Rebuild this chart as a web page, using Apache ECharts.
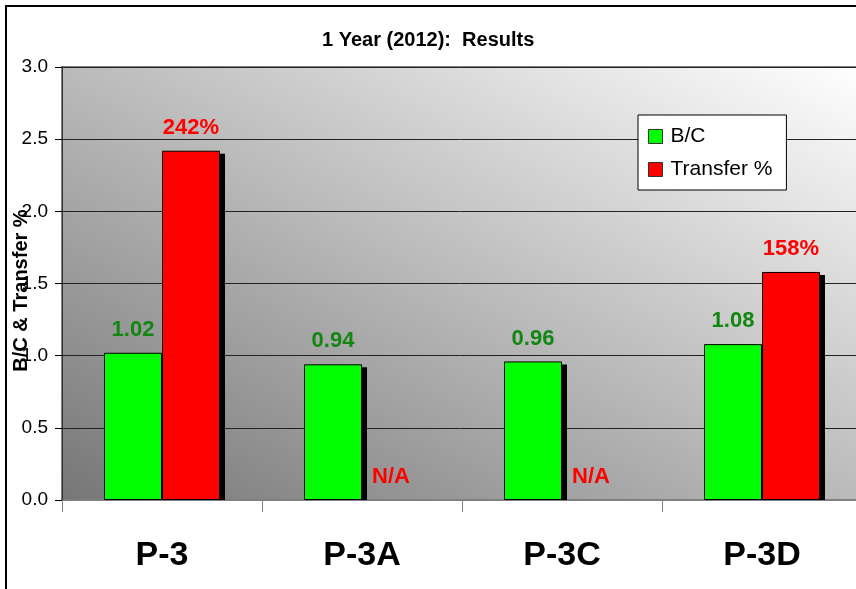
<!DOCTYPE html>
<html>
<head>
<meta charset="utf-8">
<title>1 Year (2012): Results</title>
<script src="https://cdn.jsdelivr.net/npm/echarts@6/dist/echarts.min.js"></script>
<style>
  html, body { margin: 0; padding: 0; background: #fff; }
  #chart { width: 856px; height: 589px; }
</style>
</head>
<body>
<div id="chart"></div>
<script>
// 数据
const categories = ['P-3', 'P-3A', 'P-3C', 'P-3D']
const bcValues = [1.02, 0.94, 0.96, 1.08]
const transferValues = [2.42, 0, 0, 1.58]
const transferLabels = ['242%', 'N/A', 'N/A', '158%']
const yTicks = [0, 0.5, 1, 1.5, 2, 2.5, 3]

const font = '"Liberation Sans", Arial, sans-serif'
const barWidth = 58

const chart = echarts.init(document.getElementById('chart'))

// bar drop shadows (drawn under the bars, from the same values)
const renderShadow = (params, api) => {
  const idx = api.value(0)
  const base = api.coord([idx, 0])
  const children = []
  const vals = [api.value(1), api.value(2)]
  vals.forEach((v, k) => {
    if (!(v > 0)) return
    const top = api.coord([idx, v])
    const left = base[0] - barWidth + k * barWidth
    children.push({
      type: 'rect',
      shape: { x: left + 5, y: top[1] + 3, width: barWidth, height: base[1] - top[1] - 3 },
      style: { fill: '#000' }
    })
  })
  return { type: 'group', children }
}

const option = {
  animation: false,
  textStyle: { fontFamily: font },
  title: {
    text: '1 Year (2012):  Results',
    left: 322,
    top: 30,
    padding: 0,
    textStyle: { fontFamily: font, fontSize: 20, fontWeight: 'bold', color: '#000' }
  },
  legend: {
    orient: 'vertical',
    left: 638,
    top: 115,
    padding: [11, 14, 10, 10],
    itemGap: 12,
    itemWidth: 14,
    itemHeight: 14,
    backgroundColor: '#fff',
    borderColor: '#000',
    borderWidth: 1,
    borderRadius: 0,
    icon: 'rect',
    itemStyle: { borderColor: '#333', borderWidth: 1 },
    textStyle: { fontFamily: font, fontSize: 21, color: '#000', padding: [0, 0, 0, 3] },
    data: ['B/C', 'Transfer %']
  },
  grid: {
    left: 62,
    right: -6,
    top: 67,
    bottom: 89,
    containLabel: false,
    outerBoundsMode: 'none',
    show: true,
    borderColor: '#808080',
    borderWidth: 2,
    backgroundColor: {
      type: 'linear',
      x: 0.273, y: 1.273, x2: 0.727, y2: -0.273,
      colorStops: [
        { offset: 0, color: '#767676' },
        { offset: 1, color: '#ffffff' }
      ]
    }
  },
  xAxis: {
    type: 'category',
    data: categories,
    axisLine: { lineStyle: { color: '#808080', width: 1 } },
    axisTick: { show: true, length: 12, lineStyle: { color: '#808080' } },
    axisLabel: { fontFamily: font, fontSize: 34, fontWeight: 'bold', color: '#000', margin: 39 }
  },
  yAxis: {
    type: 'value',
    min: yTicks[0],
    max: yTicks[yTicks.length - 1],
    interval: 0.5,
    name: 'B/C & Transfer %',
    nameLocation: 'middle',
    nameGap: 31,
    nameRotate: 90,
    nameMoveOverlap: false,
    nameTextStyle: { fontFamily: font, fontSize: 20, fontWeight: 'bold', color: '#000', padding: [0, 14, 0, 0] },
    axisLine: { show: true, lineStyle: { color: '#333', width: 1 } },
    axisTick: { show: true, length: 7, lineStyle: { color: '#000' } },
    axisLabel: {
      fontFamily: font, fontSize: 19, color: '#000', margin: 14,
      formatter: v => v.toFixed(1)
    },
    splitLine: { show: true, lineStyle: { color: '#222', width: 1 } }
  },
  series: [
    {
      name: 'shadow',
      type: 'custom',
      z: 1,
      silent: true,
      renderItem: renderShadow,
      data: categories.map((c, i) => [i, bcValues[i], transferValues[i]])
    },
    {
      name: 'B/C',
      type: 'bar',
      z: 2,
      barWidth: barWidth,
      barGap: '0%',
      data: bcValues,
      itemStyle: { color: '#00ff00', borderColor: '#000', borderWidth: 1 },
      label: {
        show: true,
        position: 'top',
        distance: 12,
        fontFamily: font,
        fontSize: 22,
        fontWeight: 'bold',
        color: '#128612',
        formatter: p => p.value.toFixed(2)
      }
    },
    {
      name: 'Transfer %',
      type: 'bar',
      z: 2,
      barWidth: barWidth,
      barGap: '0%',
      data: transferValues.map(v => v > 0 ? v : {
        value: v,
        itemStyle: { borderWidth: 0, color: 'transparent' }
      }),
      itemStyle: { color: '#ff0000', borderColor: '#000', borderWidth: 1 },
      label: {
        show: true,
        position: 'top',
        distance: 12,
        fontFamily: font,
        fontSize: 22,
        fontWeight: 'bold',
        color: '#ff0000',
        formatter: p => transferLabels[p.dataIndex]
      }
    }
  ],
  graphic: [
    {
      type: 'rect',
      silent: true,
      z: 100,
      shape: { x: 6, y: 6, width: 900, height: 700 },
      style: { fill: 'none', stroke: '#000', lineWidth: 2 }
    }
  ]
}

chart.setOption(option)
window.addEventListener('resize', () => chart.resize())
</script>
</body>
</html>
